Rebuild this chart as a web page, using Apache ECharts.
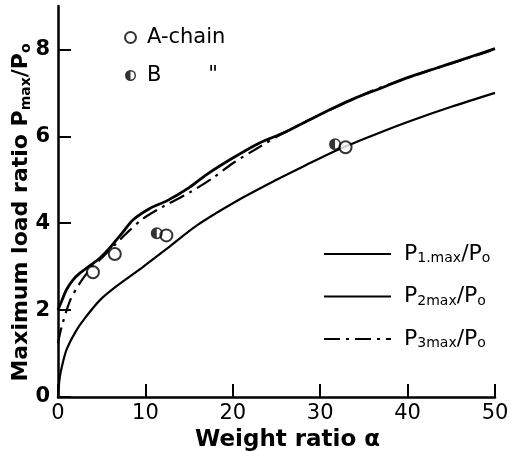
<!DOCTYPE html>
<html><head><meta charset="utf-8">
<script src="https://cdn.jsdelivr.net/npm/echarts@6/dist/echarts.min.js"></script>
<style>html,body{margin:0;padding:0;background:#fff}#c{width:509px;height:452px}</style>
</head><body><div id="c"></div>
<script>
// P1.max/Po (upper solid)
const p1X = [0, 0.5, 1, 1.7, 2.5, 3.7, 4.8, 6, 7.4, 8.6, 10.5, 12.5, 15, 17, 20, 23, 25.7, 28, 31.5, 34, 37.2, 40, 43, 46, 50];
const p1Y = [2.0, 2.25, 2.48, 2.69, 2.85, 3.03, 3.2, 3.45, 3.79, 4.08, 4.34, 4.52, 4.82, 5.12, 5.5, 5.84, 6.07, 6.3, 6.65, 6.88, 7.13, 7.35, 7.55, 7.75, 8.02];
// P2max/Po (lower solid)
const p2X = [0, 0.2, 0.5, 1, 2, 3.1, 4.8, 6.7, 9.7, 12.5, 15.9, 20.8, 25, 28, 31.9, 36, 40, 45, 50];
const p2Y = [0, 0.45, 0.75, 1.1, 1.5, 1.82, 2.23, 2.55, 2.99, 3.42, 3.95, 4.55, 5.0, 5.3, 5.68, 6.02, 6.33, 6.68, 7.0];
// P3max/Po (dash-dot)
const p3X = [0, 0.4, 1.4, 2.5, 3.7, 5, 6.5, 8, 9.7, 12, 15, 17.7, 20, 23, 26, 30, 35, 40, 45, 50];
const p3Y = [1.24, 1.6, 2.23, 2.62, 2.95, 3.2, 3.5, 3.8, 4.1, 4.38, 4.7, 5.04, 5.38, 5.75, 6.1, 6.5, 6.97, 7.35, 7.68, 8.0];
// test points
const aX = [4.0, 6.5, 12.4, 32.9];
const aY = [2.87, 3.29, 3.72, 5.75];
const bX = [11.3, 31.7];
const bY = [3.77, 5.82];
const xTicks = [0, 10, 20, 30, 40, 50];
const yTicks = [0, 2, 4, 6, 8];

const zip = (xs, ys) => xs.map((x, i) => [x, ys[i]]);
const FONT = 'DejaVu Sans';
const halfCircle = 'path://M10,0 A10,10 0 1,1 10,20 A10,10 0 1,1 10,0 Z M10,2.6 L10,17.4 A7.4,7.4 0 0,0 10,2.6 Z';

const chart = echarts.init(document.getElementById('c'));
const sub = { fontFamily: FONT, fontSize: 14, fontWeight: 'bold', color: '#000', padding: [9, 0, 0, 0] };
const big = { fontFamily: FONT, fontSize: 22, fontWeight: 'bold', color: '#000' };
const lsub = { fontFamily: FONT, fontSize: 14, color: '#000', padding: [9, 0, 0, 0] };
const lbig = { fontFamily: FONT, fontSize: 22, color: '#000' };
const legNames = {
  'P1.max/Po': '{a|P}{s|1.max}{a|/P}{s|o}',
  'P2max/Po': '{a|P}{s|2max}{a|/P}{s|o}',
  'P3max/Po': '{a|P}{s|3max}{a|/P}{s|o}'
};
chart.setOption({
  animation: false,
  backgroundColor: '#fff',
  grid: { left: 58, right: 14, top: 6, bottom: 55, outerBoundsMode: 'none' },
  xAxis: {
    type: 'value', min: 0, max: 50, interval: 10,
    axisLine: { lineStyle: { color: '#000', width: 2.5 } },
    axisTick: { inside: true, length: 13, lineStyle: { color: '#000', width: 2 }, customValues: xTicks },
    axisLabel: { customValues: xTicks, color: '#000', fontFamily: FONT, fontSize: 21, margin: 6 },
    splitLine: { show: false },
    name: 'Weight ratio α', nameLocation: 'middle', nameGap: 30,
    nameTextStyle: { color: '#000', fontFamily: FONT, fontSize: 23, fontWeight: 'bold', padding: [0, 0, 0, 22] }
  },
  yAxis: {
    type: 'value', min: 0, max: 9, interval: 2,
    axisLine: { lineStyle: { color: '#000', width: 2.5 } },
    axisTick: { inside: true, length: 13, lineStyle: { color: '#000', width: 2 }, customValues: yTicks },
    axisLabel: { customValues: yTicks, color: '#000', fontFamily: FONT, fontSize: 21, fontWeight: 'bold', margin: 8 },
    splitLine: { show: false },
    name: '{a|Maximum load ratio P}{s|max}{a|/P}{s|o}', nameLocation: 'middle', nameGap: 25, nameRotate: 90,
    nameMoveOverlap: false,
    nameTextStyle: { padding: [0, 22, 0, 0], rich: { a: big, s: sub } }
  },
  legend: [
    {
      data: ['A-chain', 'B'], orient: 'vertical', left: 119, top: 22,
      itemWidth: 11, itemHeight: 11, itemGap: 17,
      formatter: n => n === 'B' ? 'B       "' : n,
      textStyle: { color: '#000', fontFamily: FONT, fontSize: 21, padding: [0, 0, 0, 6] }
    },
    {
      data: ['P1.max/Po', 'P2max/Po', 'P3max/Po'], orient: 'vertical', left: 318, top: 238,
      itemWidth: 67, itemHeight: 20, itemGap: 20,
      itemStyle: { opacity: 0 },
      formatter: n => legNames[n],
      textStyle: { padding: [0, 0, 0, 8], rich: { a: lbig, s: lsub } }
    }
  ],
  series: [
    { name: 'P1.max/Po', type: 'line', data: zip(p1X, p1Y), smooth: 0.3, symbol: 'none',
      itemStyle: { color: '#000' }, lineStyle: { color: '#000', width: 2.8 } },
    { name: 'P2max/Po', type: 'line', data: zip(p2X, p2Y), smooth: 0.3, symbol: 'none',
      itemStyle: { color: '#000' }, lineStyle: { color: '#000', width: 2.2 } },
    { name: 'P3max/Po', type: 'line', data: zip(p3X, p3Y), smooth: 0.3, symbol: 'none',
      itemStyle: { color: '#000' }, lineStyle: { color: '#000', width: 2.2, type: [16, 6, 3, 6] } },
    { name: 'A-chain', type: 'scatter', data: zip(aX, aY), symbol: 'circle', symbolSize: 12, z: 5,
      itemStyle: { color: '#fff', borderColor: '#000', borderWidth: 2 } },
    { name: 'B', type: 'scatter', data: zip(bX, bY), symbol: halfCircle, symbolSize: 12, z: 5,
      itemStyle: { color: '#000', borderWidth: 0 } }
  ]
});
</script></body></html>
